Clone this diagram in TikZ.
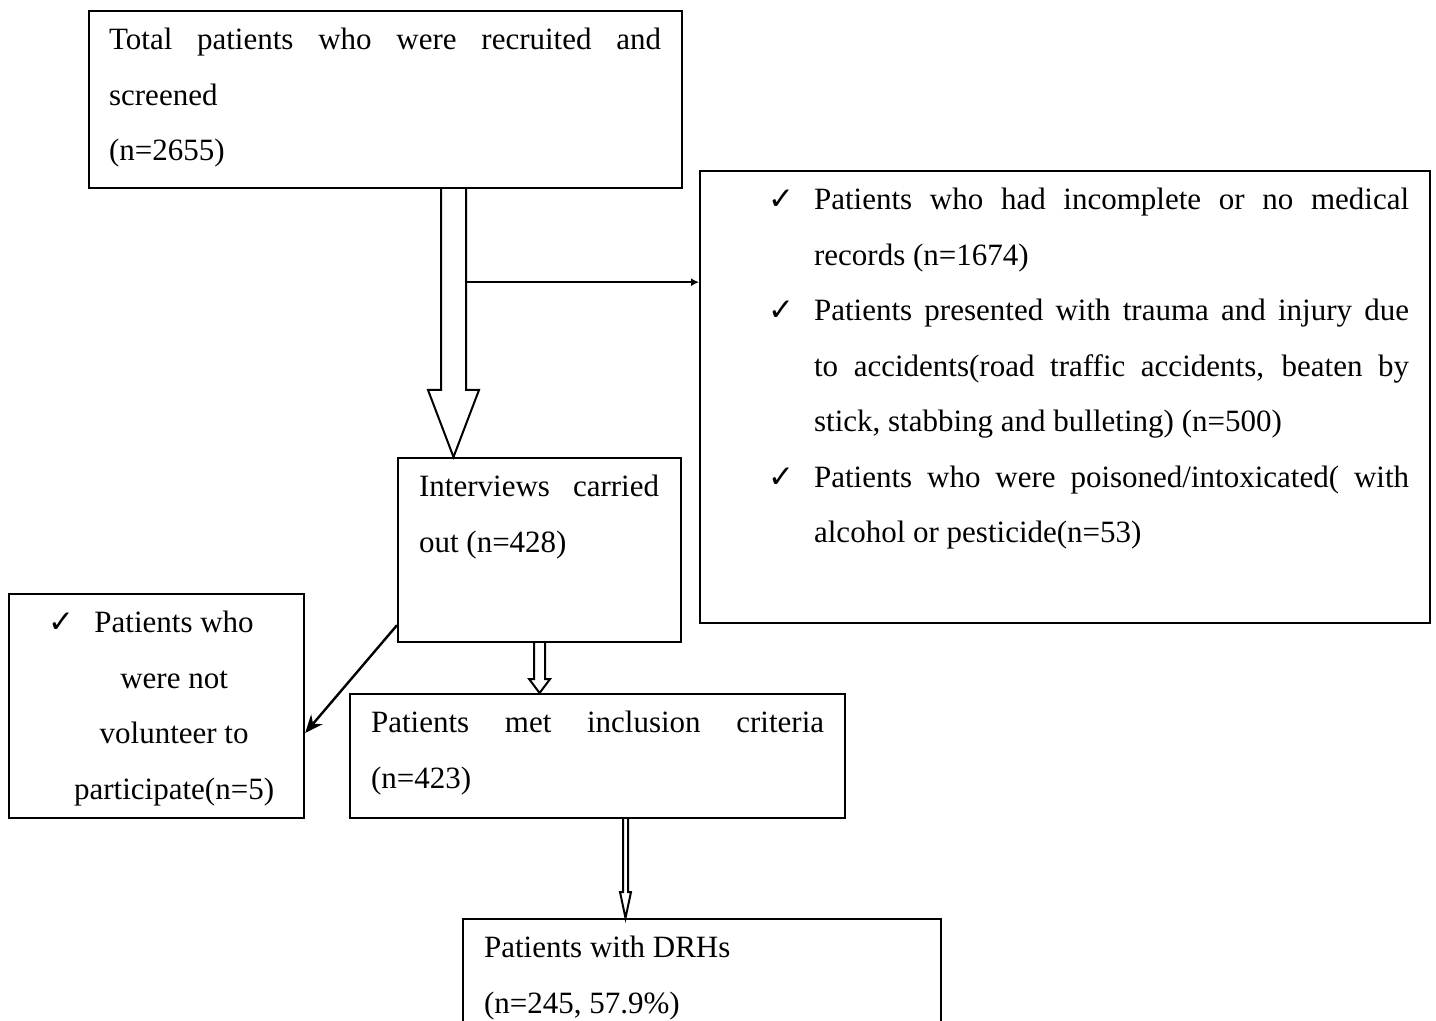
\documentclass[tikz,border=0pt]{standalone}
\usepackage{fontspec}
\setmainfont{Liberation Serif}
\newfontfamily\tickfont{DejaVu Sans}
\usetikzlibrary{arrows.meta, calc}
\newlength{\px}
\setlength{\px}{0.5pt}
\hyphenpenalty=10000
\def\tk{{\tickfont\fontsize{15.5pt}{27.75pt}\selectfont ✓}}
\newcommand{\tickitem}{\par\hangindent=46\px\hangafter=1\noindent\strut\makebox[46\px][l]{\tk}}
% hollow block arrow: from, to, half shaft, half head, head length
\newcommand{\hollowarrow}[5]{%
  \draw[line width=1pt, line join=miter] let \p1=(#1), \p2=(#2) in
    (\x1-#3,\y1) -- (\x1-#3,\y2+#5) -- (\x1-#4,\y2+#5) -- (\x1,\y2)
    -- (\x1+#4,\y2+#5) -- (\x1+#3,\y2+#5) -- (\x1+#3,\y1);}

\begin{document}
\begin{tikzpicture}[x=0.5pt, y=-0.5pt,
  box/.style={draw, line width=1.1pt, inner sep=0pt, anchor=north west,
    font=\fontsize{15.5pt}{27.75pt}\selectfont},
  link/.style={line width=1pt, -{Latex[length=4pt,width=4pt]}}]
\useasboundingbox (0,0) rectangle (1436,1021);

\node[box] (total) at (88,10) {\parbox[c][177\px][t]{593\px}{\leftskip=20\px\rightskip=21\px
  \strut Total patients who were recruited and\linebreak screened\par (n=2655)}};
\node[box] (excl) at (699,170) {\parbox[c][452\px][t]{730\px}{\leftskip=68\px\rightskip=21\px
  \tickitem Patients who had incomplete or no medical\linebreak records (n=1674)
  \tickitem Patients presented with trauma and injury due\linebreak to accidents(road traffic accidents, beaten by\linebreak stick, stabbing and bulleting) (n=500)
  \tickitem Patients who were poisoned/intoxicated( with\linebreak alcohol or pesticide(n=53)}};
\node[box] (inter) at (397,457) {\parbox[c][184\px][t]{283\px}{\leftskip=21\px\rightskip=22\px
  \strut Interviews carried\linebreak out (n=428)}};
\node[box] (vol) at (8,593) {\parbox[c][224\px][t]{295\px}{\centering\leftskip=35\px plus 1fil
  \strut\llap{\tk\hspace{20\px}}Patients who\\were not\\volunteer to\\participate(n=5)}};
\node[box] (incl) at (349,693) {\parbox[c][124\px][t]{495\px}{\leftskip=21\px\rightskip=21\px
  \strut Patients met inclusion criteria\linebreak (n=423)}};
\node[box] (drhs) at (462,918) {\parbox[c][140\px][t]{478\px}{\leftskip=21\px\rightskip=21\px
  \strut Patients with DRHs\par (n=245, 57.9\%)}};

% block arrows
\coordinate (s1) at ($(total.south west)+(365.5,0)$);
\hollowarrow{s1}{s1 |- inter.north}{6.25pt}{12.75pt}{33.5pt}
\hollowarrow{inter.south}{inter.south |- incl.north}{2.75pt}{5.25pt}{7pt}
\coordinate (s3) at ($(incl.south west)+(276.5,0)$);
\hollowarrow{s3}{s3 |- drhs.north}{1.25pt}{2.75pt}{13pt}

% exclusions
\coordinate (b1) at ($(s1)+(12.5,93)$);
\draw[link] (b1) -- (b1 -| excl.west);
\draw[line width=1.2pt, -{Stealth[length=9pt,width=7.5pt]}] ($(inter.south west)+(0,-18)$) -- ($(vol.north east)+(0,140)$);
\end{tikzpicture}
\end{document}
